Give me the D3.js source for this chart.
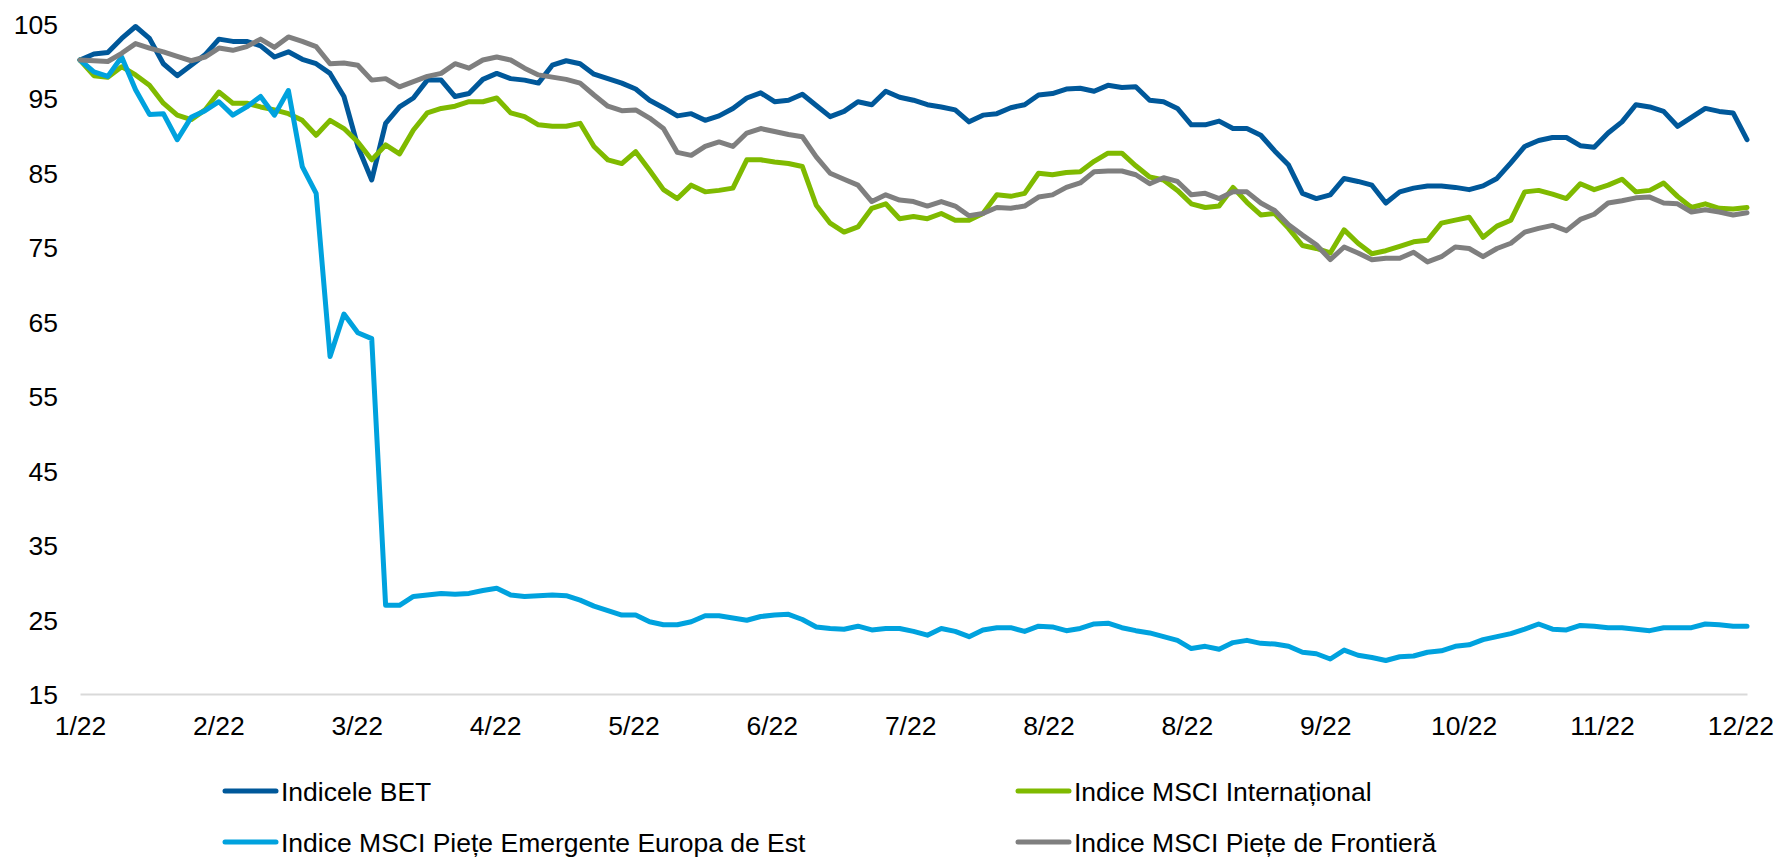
<!DOCTYPE html>
<html>
<head>
<meta charset="utf-8">
<script src="https://cdn.jsdelivr.net/npm/d3@7"></script>
<style>
  html, body { margin: 0; padding: 0; background: #ffffff; }
  svg { display: block; }
  text { font-family: "Liberation Sans", Arial, sans-serif; fill: #000000; }
</style>
</head>
<body>
<svg id="chart" width="1777" height="857"></svg>
<script>
// ---- Data ----
const tickLabels = ["1/22","2/22","3/22","4/22","5/22","6/22","7/22","8/22","8/22","9/22","10/22","11/22","12/22"];
const yTicks = [15, 25, 35, 45, 55, 65, 75, 85, 95, 105];
// a label every ~10 sampled points (the last point lies just past the last label)
const labelStep = 9.96;

const seriesNames = ["Indicele BET", "Indice MSCI Internațional", "Indice MSCI Piețe Emergente Europa de Est", "Indice MSCI Piețe de Frontieră"];

const bet = [100.1,100.9,101.1,103.0,104.6,103.0,99.6,98.0,99.4,100.8,
  102.9,102.6,102.6,102.0,100.5,101.2,100.2,99.6,98.3,95.2,
  88.5,84.0,91.6,93.8,95.0,97.4,97.4,95.2,95.6,97.5,
  98.3,97.6,97.4,97.0,99.4,100.0,99.6,98.2,97.6,97.0,
  96.2,94.7,93.7,92.6,92.9,92.0,92.6,93.6,95.0,95.7,
  94.5,94.7,95.5,94.0,92.5,93.2,94.5,94.1,95.9,95.1,
  94.7,94.1,93.8,93.4,91.8,92.7,92.9,93.7,94.1,95.4,
  95.6,96.2,96.3,95.9,96.7,96.4,96.5,94.7,94.5,93.6,
  91.4,91.4,91.9,90.9,90.9,90.0,87.9,86.0,82.2,81.5,
  82.0,84.2,83.8,83.3,80.9,82.4,82.9,83.2,83.2,83.0,
  82.7,83.2,84.2,86.3,88.5,89.3,89.7,89.7,88.6,88.4,
  90.3,91.8,94.1,93.8,93.2,91.2,92.4,93.6,93.2,93.0,
  89.4];

const msciIntl = [100.1,98.0,97.8,99.2,98.1,96.7,94.3,92.7,92.1,93.4,
  95.8,94.3,94.3,93.8,93.4,92.9,92.0,90.0,92.0,90.9,
  89.1,86.7,88.7,87.5,90.7,93.0,93.6,93.9,94.5,94.5,
  95.0,93.0,92.5,91.4,91.2,91.2,91.6,88.5,86.7,86.2,
  87.8,85.3,82.7,81.5,83.3,82.4,82.6,82.9,86.7,86.7,
  86.4,86.2,85.8,80.6,78.2,77.0,77.7,80.2,80.8,78.8,
  79.1,78.8,79.5,78.6,78.6,79.5,82.0,81.8,82.2,84.9,
  84.7,85.0,85.1,86.5,87.6,87.6,85.9,84.4,84.0,82.6,
  80.8,80.3,80.5,83.0,81.0,79.3,79.5,77.5,75.2,74.8,
  74.2,77.3,75.5,74.1,74.5,75.1,75.7,75.9,78.2,78.6,
  79.0,76.3,77.8,78.6,82.4,82.6,82.1,81.5,83.5,82.7,
  83.3,84.1,82.4,82.6,83.6,81.8,80.3,80.8,80.2,80.1,
  80.3];

const msciEE = [100.1,98.5,97.9,100.5,96.1,92.8,92.9,89.4,92.4,93.3,
  94.5,92.7,93.8,95.2,92.7,96.0,85.8,82.2,60.3,66.0,
  63.5,62.7,26.9,26.9,28.1,28.3,28.5,28.4,28.5,28.9,
  29.2,28.3,28.1,28.2,28.3,28.2,27.6,26.8,26.2,25.6,
  25.6,24.7,24.3,24.3,24.7,25.5,25.5,25.2,24.9,25.4,
  25.6,25.7,25.0,24.0,23.8,23.7,24.1,23.6,23.8,23.8,
  23.4,22.9,23.8,23.4,22.7,23.6,23.9,23.9,23.4,24.1,
  24.0,23.5,23.8,24.4,24.5,23.9,23.5,23.2,22.7,22.2,
  21.1,21.4,21.0,21.9,22.2,21.8,21.7,21.4,20.6,20.4,
  19.7,20.9,20.2,19.9,19.5,20.0,20.1,20.6,20.8,21.4,
  21.6,22.3,22.7,23.1,23.7,24.4,23.7,23.6,24.2,24.1,
  23.9,23.9,23.7,23.5,23.9,23.9,23.9,24.4,24.3,24.1,
  24.1];

const msciFrontier = [100.1,100.0,99.9,101.0,102.3,101.7,101.2,100.6,100.0,100.5,
  101.7,101.4,101.9,102.9,101.8,103.2,102.6,101.9,99.6,99.7,
  99.4,97.4,97.6,96.5,97.2,97.9,98.3,99.6,99.0,100.1,
  100.5,100.1,99.0,98.1,97.8,97.5,97.0,95.4,93.9,93.3,
  93.4,92.3,90.9,87.7,87.3,88.5,89.1,88.5,90.3,90.9,
  90.5,90.1,89.8,87.1,84.9,84.1,83.3,81.1,82.0,81.3,
  81.1,80.5,81.1,80.5,79.2,79.5,80.3,80.2,80.5,81.7,
  82.0,83.0,83.6,85.1,85.2,85.2,84.7,83.5,84.3,83.8,
  82.0,82.2,81.5,82.4,82.4,80.9,79.9,78.0,76.6,75.3,
  73.3,75.0,74.2,73.3,73.5,73.5,74.3,73.0,73.7,75.0,
  74.8,73.7,74.8,75.5,77.0,77.5,77.9,77.2,78.7,79.4,
  80.9,81.2,81.6,81.7,80.9,80.8,79.7,80.0,79.7,79.3,
  79.6];

const seriesColors = ["#00589A", "#7FBA00", "#00A2DE", "#7F7F7F"];
const seriesValues = [bet, msciIntl, msciEE, msciFrontier];

// ---- Layout ----
const svg = d3.select("#chart");
const plotLeft = 80, plotRight = 1747, plotTop = 23.5, plotBottom = 694;
const fontSize = 26.5;

const n = bet.length;
const x = d3.scaleLinear().domain([0, n - 1]).range([plotLeft, plotRight]);
const y = d3.scaleLinear().domain([15, 105]).range([plotBottom, plotTop]);

// Y axis (labels only)
const yAxis = d3.axisLeft(y).tickValues(yTicks).tickSize(0).tickPadding(0).tickFormat(d3.format("d"));
const gy = svg.append("g").attr("transform", "translate(58,0)").call(yAxis);
gy.select(".domain").remove();
gy.selectAll("text").attr("font-size", fontSize).attr("font-family", "Liberation Sans, Arial, sans-serif")
  .attr("fill", "#000").attr("dy", "0.36em");

// X axis
const xTickVals = tickLabels.map((_, i) => i * labelStep);
const xAxis = d3.axisBottom(x).tickValues(xTickVals).tickSize(0).tickSizeOuter(0).tickPadding(0)
  .tickFormat((d, i) => tickLabels[i]);
const gx = svg.append("g").attr("transform", `translate(0,${plotBottom})`).call(xAxis);
gx.select(".domain").attr("stroke", "#D9D9D9").attr("stroke-width", 2.2);
gx.selectAll("text").attr("font-size", fontSize).attr("font-family", "Liberation Sans, Arial, sans-serif")
  .attr("fill", "#000").attr("y", 41).attr("dy", 0);

// Lines
const line = d3.line().x((d, i) => x(i)).y(d => y(d)).curve(d3.curveLinear);
seriesValues.forEach((vals, k) => {
  svg.append("path")
    .datum(vals)
    .attr("fill", "none")
    .attr("stroke", seriesColors[k])
    .attr("stroke-width", 5)
    .attr("stroke-linejoin", "round")
    .attr("stroke-linecap", "round")
    .attr("d", line);
});

// Legend (2 columns x 2 rows, row-major)
const legColX = [223, 1016];
const legRowY = [791, 842];
seriesNames.forEach((name, k) => {
  const cx = legColX[k % 2], cy = legRowY[Math.floor(k / 2)];
  const g = svg.append("g").attr("transform", `translate(${cx},${cy})`);
  g.append("line").attr("x1", 2).attr("x2", 53).attr("y1", 0).attr("y2", 0)
    .attr("stroke", seriesColors[k]).attr("stroke-width", 5).attr("stroke-linecap", "round");
  g.append("text").attr("x", 58).attr("y", 0).attr("dy", "0.36em")
    .attr("font-size", fontSize).text(name);
});
</script>
</body>
</html>
